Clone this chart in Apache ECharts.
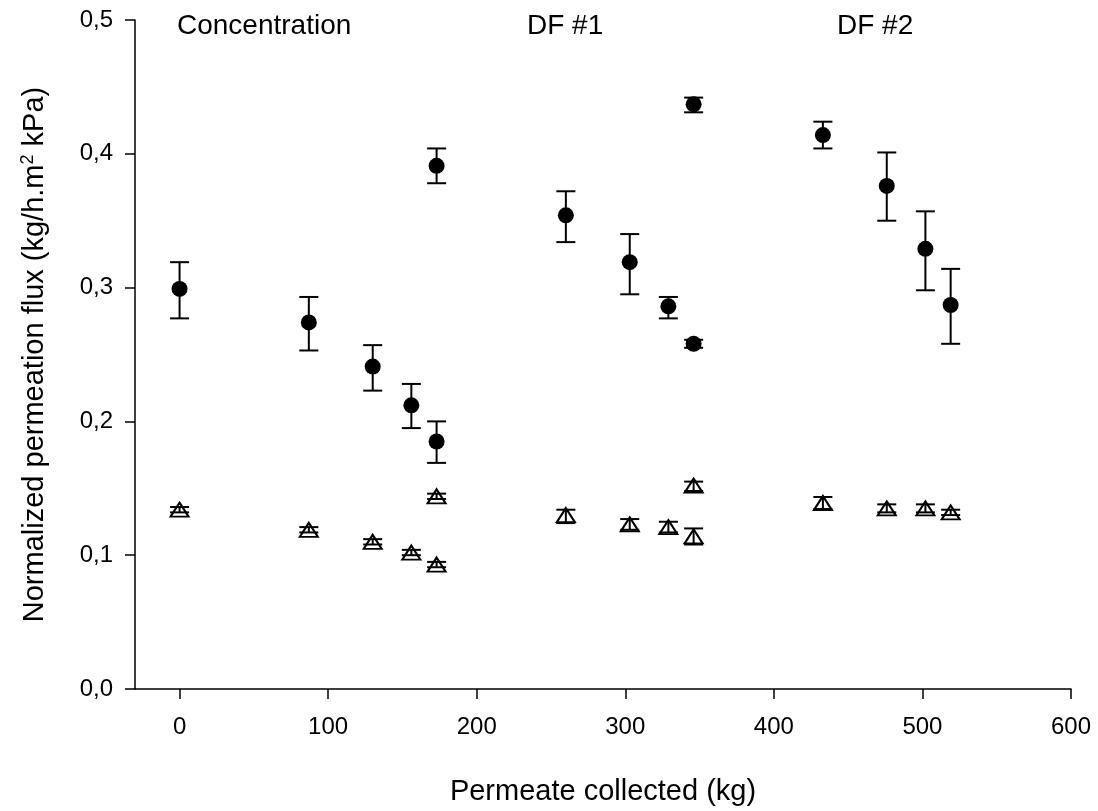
<!DOCTYPE html>
<html lang="en">
<head>
    <meta charset="UTF-8">
    <title>Permeation flux</title>
    <script src="https://cdn.jsdelivr.net/npm/echarts@6/dist/echarts.min.js"></script>
</head>
<body style="margin:0">
<div id="main" style="width: 1098px;height:811px;"></div>
<script type="text/javascript">
    // permeate collected (kg)
    var xVals = [0, 87, 130, 156, 173, 173, 260, 303, 329, 346, 346, 433, 476, 502, 519];
    // filled circles
    var circleY = [0.299, 0.274, 0.241, 0.212, 0.185, 0.391, 0.354, 0.319, 0.286, 0.258, 0.437, 0.414, 0.376, 0.329, 0.287];
    var circleLow = [0.277, 0.253, 0.223, 0.195, 0.169, 0.378, 0.334, 0.295, 0.277, 0.255, 0.431, 0.404, 0.350, 0.298, 0.258];
    var circleHigh = [0.319, 0.293, 0.257, 0.228, 0.200, 0.404, 0.372, 0.340, 0.293, 0.261, 0.442, 0.424, 0.401, 0.357, 0.314];
    // open triangles
    var triY = [0.134, 0.119, 0.110, 0.102, 0.093, 0.144, 0.130, 0.123, 0.121, 0.114, 0.152, 0.139, 0.135, 0.135, 0.132];
    var triLow = [0.132, 0.117, 0.108, 0.100, 0.091, 0.142, 0.124, 0.119, 0.117, 0.108, 0.148, 0.1345, 0.132, 0.132, 0.130];
    var triHigh = [0.136, 0.121, 0.112, 0.104, 0.095, 0.146, 0.134, 0.127, 0.125, 0.120, 0.155, 0.1435, 0.138, 0.138, 0.134];
    var xTicks = [0, 100, 200, 300, 400, 500, 600];
    var phases = ['Concentration', 'DF #1', 'DF #2'];

    var font = 'Liberation Sans, Arial, sans-serif';

    function pts(ys) {
        var out = [];
        for (let i = 0; i < xVals.length; i++) out.push([xVals[i], ys[i]]);
        return out;
    }

    function errData(lo, hi) {
        var out = [];
        for (let i = 0; i < xVals.length; i++) out.push([xVals[i], lo[i], hi[i]]);
        return out;
    }

    function renderErr(params, api) {
        var x = api.value(0);
        var lo = api.coord([x, api.value(1)]);
        var hi = api.coord([x, api.value(2)]);
        var half = 9.5;
        var st = {stroke: '#000', lineWidth: 2};
        return {
            type: 'group',
            children: [
                {type: 'line', shape: {x1: lo[0], y1: lo[1], x2: hi[0], y2: hi[1]}, style: st},
                {type: 'line', shape: {x1: lo[0] - half, y1: lo[1], x2: lo[0] + half, y2: lo[1]}, style: st},
                {type: 'line', shape: {x1: hi[0] - half, y1: hi[1], x2: hi[0] + half, y2: hi[1]}, style: st}
            ]
        };
    }

    var myChart = echarts.init(document.getElementById('main'));
    var option = {
        animation: false,
        backgroundColor: '#fff',
        grid: {left: 135, right: 27, top: 20, bottom: 116},
        graphic: [
            {type: 'text', left: 177, top: 12, style: {text: phases[0], font: '28px ' + font, fill: '#000'}},
            {type: 'text', left: 527, top: 12, style: {text: phases[1], font: '28px ' + font, fill: '#000'}},
            {type: 'text', left: 837, top: 12, style: {text: phases[2], font: '28px ' + font, fill: '#000'}}
        ],
        xAxis: {
            type: 'value',
            min: -30,
            max: 600,
            splitLine: {show: false},
            axisLine: {onZero: false, lineStyle: {color: '#000', width: 1.5}},
            axisTick: {show: true, length: 10, lineStyle: {color: '#000', width: 1.5}, customValues: xTicks},
            axisLabel: {color: '#000', fontSize: 24, fontFamily: font, margin: 26, customValues: xTicks},
            name: 'Permeate collected (kg)',
            nameLocation: 'middle',
            nameGap: 88,
            nameTextStyle: {color: '#000', fontSize: 29, fontFamily: font}
        },
        yAxis: {
            type: 'value',
            min: 0,
            max: 0.5,
            interval: 0.1,
            splitLine: {show: false},
            axisLine: {show: true, onZero: false, lineStyle: {color: '#000', width: 1.5}},
            axisTick: {show: true, length: 10, lineStyle: {color: '#000', width: 1.5}},
            axisLabel: {
                color: '#000', fontSize: 24, fontFamily: font, margin: 22,
                formatter: function (v) { return v.toFixed(1).replace('.', ','); }
            },
            name: '{a|Normalized permeation flux (kg/h.m}{s|2}{a| kPa)}',
            nameLocation: 'middle',
            nameGap: 84,
            nameRotate: 90,
            nameTextStyle: {
                rich: {
                    a: {color: '#000', fontSize: 29, fontFamily: font},
                    s: {color: '#000', fontSize: 18, fontFamily: font, verticalAlign: 'top', padding: [0, 0, 14, 0]}
                }
            }
        },
        series: [
            {
                type: 'scatter',
                data: pts(circleY),
                symbol: 'circle',
                symbolSize: 16,
                itemStyle: {color: '#000', opacity: 1},
                z: 2
            },
            {
                type: 'scatter',
                data: pts(triY),
                symbol: 'triangle',
                symbolSize: [18, 14],
                itemStyle: {color: '#fff', borderColor: '#000', borderWidth: 2, opacity: 1},
                z: 2
            },
            {
                type: 'custom',
                data: errData(circleLow, circleHigh),
                renderItem: renderErr,
                z: 3
            },
            {
                type: 'custom',
                data: errData(triLow, triHigh),
                renderItem: renderErr,
                z: 3
            }
        ]
    };
    myChart.setOption(option);
</script>
</body>
</html>
